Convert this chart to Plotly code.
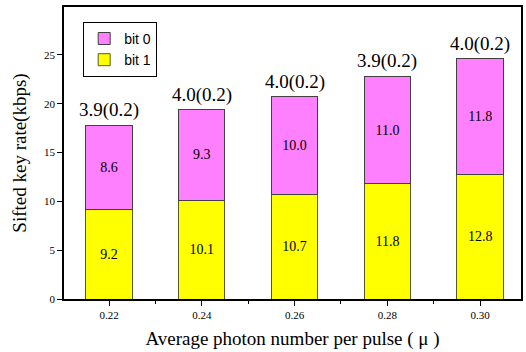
import plotly.graph_objects as go

mu = [0.22, 0.24, 0.26, 0.28, 0.30]
bit1 = [9.2, 10.1, 10.7, 11.8, 12.8]
bit0 = [8.6, 9.3, 10.0, 11.0, 11.8]
ratio_labels = ["3.9(0.2)", "4.0(0.2)", "4.0(0.2)", "3.9(0.2)", "4.0(0.2)"]
tick_labels = ["0.22", "0.24", "0.26", "0.28", "0.30"]

serif = "Liberation Serif"
fig = go.Figure()
fig.add_trace(go.Bar(
    x=mu, y=bit1, name="bit 1", width=0.01,
    marker=dict(color="#FFFF00", line=dict(color="#5a5a20", width=1)),
    text=[f"{v:.1f}" for v in bit1], textposition="inside",
    insidetextanchor="middle", textangle=0,
    textfont=dict(family=serif, size=14, color="black"),
    insidetextfont=dict(family=serif, size=14, color="black"),
))
fig.add_trace(go.Bar(
    x=mu, y=bit0, name="bit 0", width=0.01,
    marker=dict(color="#FF80FF", line=dict(color="#404040", width=1)),
    text=[f"{v:.1f}" for v in bit0], textposition="inside",
    insidetextanchor="middle", textangle=0,
    textfont=dict(family=serif, size=14, color="black"),
    insidetextfont=dict(family=serif, size=14, color="black"),
))
for x, a, b, lab in zip(mu, bit1, bit0, ratio_labels):
    fig.add_annotation(x=x, y=a + b, text=lab, showarrow=False,
                       yanchor="bottom", yshift=2,
                       font=dict(family=serif, size=19, color="black"))

fig.update_layout(
    width=526, height=352, barmode="stack",
    margin=dict(l=64, r=5, t=7, b=53),
    plot_bgcolor="white", paper_bgcolor="white",
    showlegend=True,
    legend=dict(x=0.042, y=0.949, xanchor="left", yanchor="top",
                traceorder="reversed", bordercolor="black", borderwidth=1,
                bgcolor="white", tracegroupgap=0,
                font=dict(family="Liberation Sans", size=14, color="black")),
    xaxis=dict(range=[0.2103, 0.3088], tickvals=mu, ticktext=tick_labels,
               automargin=False,
               ticks="outside", ticklen=5, tickcolor="black",
               showline=True, linecolor="black", linewidth=1.5, mirror=True,
               showgrid=False, zeroline=False,
               minor=dict(ticks="outside", ticklen=3, tickcolor="black", dtick=0.01, tick0=0.21),
               tickfont=dict(family=serif, size=11, color="black"),
               title=dict(text="Average photon number per pulse ( μ )", standoff=12,
                          font=dict(family=serif, size=19, color="black"))),
    yaxis=dict(range=[0, 29.9], tickvals=[0, 5, 10, 15, 20, 25],
               automargin=False,
               ticks="outside", ticklen=5, tickcolor="black",
               showline=True, linecolor="black", linewidth=1.5, mirror=True,
               showgrid=False, zeroline=False,
               tickfont=dict(family=serif, size=11, color="black"),
               title=dict(text="Sifted key rate(kbps)", standoff=12,
                          font=dict(family=serif, size=19, color="black"))),
)
fig.write_html("out.html", config={"displayModeBar": False},
               post_script="document.body.style.margin='0';")
